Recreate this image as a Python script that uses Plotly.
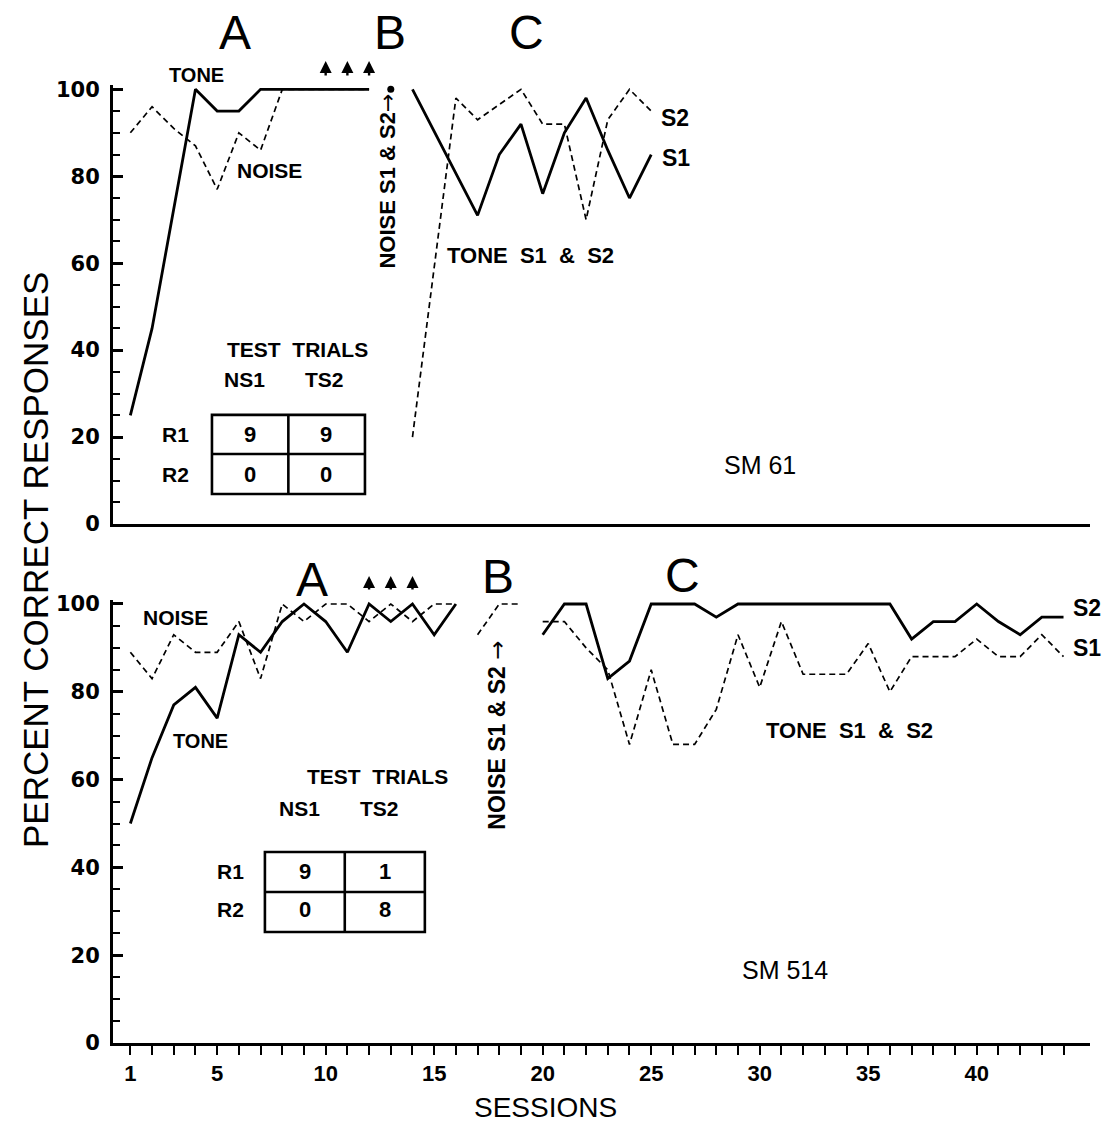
import plotly.graph_objects as go

# ---------------- data ----------------
# Top panel (SM 61)
top_A_tone_sessions = [1, 2, 4, 5, 6, 7, 8, 9, 10, 11, 12]
top_A_tone_values = [25, 45, 100, 95, 95, 100, 100, 100, 100, 100, 100]
top_A_noise_sessions = [1, 2, 3, 4, 5, 6, 7, 8, 9, 10, 11, 12]
top_A_noise_values = [90, 96, 91, 87, 77, 90, 86, 100, 100, 100, 100, 100]
top_B_sessions = [13]
top_B_values = [100]
top_C_s1_sessions = [14, 17, 18, 19, 20, 21, 22, 23, 24, 25]
top_C_s1_values = [100, 71, 85, 92, 76, 90, 98, 86, 75, 85]
top_C_s2_sessions = [14, 16, 17, 19, 20, 21, 22, 23, 24, 25]
top_C_s2_values = [20, 98, 93, 100, 92, 92, 70, 93, 100, 95]
top_test_sessions = [10, 11, 12]
top_table = [["9", "9"], ["0", "0"]]

# Bottom panel (SM 514)
bot_A_sessions = [1, 2, 3, 4, 5, 6, 7, 8, 9, 10, 11, 12, 13, 14, 15, 16]
bot_A_tone_values = [50, 65, 77, 81, 74, 93, 89, 96, 100, 96, 89, 100, 96, 100, 93, 100]
bot_A_noise_values = [89, 83, 93, 89, 89, 96, 83, 100, 96, 100, 100, 96, 100, 96, 100, 100]
bot_B_sessions = [17, 18, 19]
bot_B_values = [93, 100, 100]
bot_C_sessions = list(range(20, 45))
bot_C_s2_values = [93, 100, 100, 83, 87, 100, 100, 100, 97, 100, 100, 100, 100, 100, 100, 100,
                   100, 92, 96, 96, 100, 96, 93, 97, 97]
bot_C_s1_values = [96, 96, 90, 85, 68, 85, 68, 68, 76, 93, 81, 96, 84, 84, 84, 91,
                   80, 88, 88, 88, 92, 88, 88, 93, 88]
bot_test_sessions = [12, 13, 14]
bot_table = [["9", "1"], ["0", "8"]]

x_tick_sessions = list(range(1, 45))
x_label_sessions = [1, 5, 10, 15, 20, 25, 30, 35, 40]
x_tick_labels = ["1", "5", "10", "15", "20", "25", "30", "35", "40"]
y_tick_values = [0, 20, 40, 60, 80, 100]
y_tick_labels = ["0", "20", "40", "60", "80", "100"]

# ---------------- figure ----------------
W, H = 1109, 1124
ML, MR, MT, MB = 113, 19, 85, 81
PLOT_H = H - MT - MB


def py(px):
    """page pixel row -> paper y"""
    return (H - MB - px) / PLOT_H


def pxx(px):
    """page pixel column -> paper x"""
    return (px - ML) / (W - ML - MR)


SOLID = dict(color="black", width=2.8)
DASH = dict(color="black", width=1.7, dash="6px,4px")

fig = go.Figure()


def add_line(xs, ys, line, ax):
    fig.add_trace(go.Scatter(x=xs, y=ys, mode="lines", line=line, showlegend=False,
                             xaxis="x" if ax == 1 else "x2", yaxis="y" if ax == 1 else "y2",
                             hoverinfo="skip"))


add_line(top_A_tone_sessions, top_A_tone_values, SOLID, 1)
add_line(top_A_noise_sessions, top_A_noise_values, DASH, 1)
add_line(top_C_s1_sessions, top_C_s1_values, SOLID, 1)
add_line(top_C_s2_sessions, top_C_s2_values, DASH, 1)
fig.add_trace(go.Scatter(x=top_B_sessions, y=top_B_values, mode="markers",
                         marker=dict(color="black", size=7), showlegend=False,
                         cliponaxis=False, xaxis="x", yaxis="y"))

add_line(bot_A_sessions, bot_A_tone_values, SOLID, 2)
add_line(bot_A_sessions, bot_A_noise_values, DASH, 2)
add_line(bot_B_sessions, bot_B_values, DASH, 2)
add_line(bot_C_sessions, bot_C_s2_values, SOLID, 2)
add_line(bot_C_sessions, bot_C_s1_values, DASH, 2)

XR = [0.2, 45.22]
ytick_font = dict(family="DejaVu Sans", size=21, color="black", weight="bold")
yax_common = dict(range=[0, 101], showgrid=False, zeroline=False, showline=True,
                  linecolor="black", linewidth=3, ticks="inside", ticklen=10, tickwidth=2.5,
                  tickcolor="black", tickvals=y_tick_values, ticktext=y_tick_labels,
                  tickfont=ytick_font, ticklabelstandoff=6,
                  minor=dict(dtick=5, tick0=0, ticks="inside", ticklen=7, tickwidth=2, tickcolor="black"))

fig.update_layout(
    width=W, height=H,
    margin=dict(l=ML, r=MR, t=MT, b=MB),
    paper_bgcolor="white", plot_bgcolor="white",
    xaxis=dict(domain=[0, 1], range=XR, anchor="y", showgrid=False, zeroline=False,
               showline=True, linecolor="black", linewidth=3, showticklabels=False, ticks=""),
    yaxis=dict(domain=[py(524), 1.0], anchor="x", **yax_common),
    xaxis2=dict(domain=[0, 1], range=XR, anchor="y2", showgrid=False, zeroline=False,
                showline=True, linecolor="black", linewidth=3, ticks="outside", ticklen=9,
                tickwidth=2, tickcolor="black", tickvals=x_tick_sessions,
                ticktext=[x_tick_labels[x_label_sessions.index(s)] if s in x_label_sessions else ""
                          for s in x_tick_sessions],
                tickfont=dict(family="Liberation Sans", size=22, color="black", weight="bold")),
    yaxis2=dict(domain=[0, py(599.6)], anchor="x2", **yax_common),
)

ann = []


def txt(x, y, t, ax=1, size=21, bold=True, angle=0, xanchor="center",
        family="Liberation Sans", ypaper=False):
    ann.append(dict(x=x, y=y, xref="x" if ax == 1 else "x2",
                    yref="paper" if ypaper else ("y" if ax == 1 else "y2"),
                    text=t, showarrow=False, textangle=angle, xanchor=xanchor, yanchor="middle",
                    font=dict(family=family, size=size, color="black",
                              weight="bold" if bold else "normal")))


ARROW = '<span style="font-family:DejaVu Sans;font-weight:normal">→</span>'

# Top panel texts
txt(5.82, py(32), "A", 1, size=48, bold=False, ypaper=True)
txt(12.96, py(32), "B", 1, size=48, bold=False, ypaper=True)
txt(19.27, py(32), "C", 1, size=48, bold=False, ypaper=True)
txt(4.07, py(75), "TONE", 1, size=20, ypaper=True)
txt(7.43, 81.3, "NOISE", 1, size=21)
txt(12.87, 79.0, "NOISE S1 &amp; S2" + ARROW, 1, size=22, angle=-90)
txt(19.43, 61.75, "TONE  S1  &amp;  S2", 1, size=22)
txt(25.35, 93.5, "S2", 1, size=23, xanchor="left")
txt(25.4, 84.3, "S1", 1, size=23, xanchor="left")
txt(8.72, 40.1, "TEST  TRIALS", 1, size=21)
txt(6.28, 33.2, "NS1", 1, size=21)
txt(9.96, 33.2, "TS2", 1, size=21)
txt(3.06, 20.5, "R1", 1, size=21)
txt(3.06, 11.5, "R2", 1, size=21)
txt(30.0, 13.6, "SM 61", 1, size=25, bold=False)

# Bottom panel texts
txt(9.37, py(579), "A", 2, size=48, bold=False, ypaper=True)
txt(17.94, py(576), "B", 2, size=48, bold=False, ypaper=True)
txt(26.46, py(575), "C", 2, size=48, bold=False, ypaper=True)
txt(3.06, 97.0, "NOISE", 2, size=21)
txt(4.21, 68.8, "TONE", 2, size=20)
txt(12.41, 60.6, "TEST  TRIALS", 2, size=21)
txt(8.81, 53.5, "NS1", 2, size=21)
txt(12.5, 53.5, "TS2", 2, size=21)
txt(5.6, 39.0, "R1", 2, size=21)
txt(5.6, 30.3, "R2", 2, size=21)
txt(17.89, 70.2, "NOISE S1 &amp; S2 " + ARROW, 2, size=23, angle=-90)
txt(34.16, 71.1, "TONE  S1  &amp;  S2", 2, size=22)
txt(44.35, 99.0, "S2", 2, size=23, xanchor="left")
txt(44.35, 90.0, "S1", 2, size=23, xanchor="left")
txt(31.16, 16.6, "SM 514", 2, size=25, bold=False)

# table cell values
for r, yv in enumerate([20.5, 11.5]):
    for c, xv in enumerate([6.51, 10.0]):
        txt(xv, yv, top_table[r][c], 1, size=22)
for r, yv in enumerate([39.0, 30.3]):
    for c, xv in enumerate([9.04, 12.73]):
        txt(xv, yv, bot_table[r][c], 2, size=22)

# test-trial arrows
for s in top_test_sessions:
    ann.append(dict(x=s, y=py(61), xref="x", yref="paper", ax=0, ay=16,
                    showarrow=True, arrowhead=2, arrowsize=1.0, arrowwidth=2.4,
                    arrowcolor="black", text=""))
for s in bot_test_sessions:
    ann.append(dict(x=s, y=py(576), xref="x2", yref="paper", ax=0, ay=15,
                    showarrow=True, arrowhead=2, arrowsize=1.0, arrowwidth=2.4,
                    arrowcolor="black", text=""))

# axis titles
ann.append(dict(x=pxx(35), y=py(560), xref="paper", yref="paper", text="PERCENT CORRECT RESPONSES",
                showarrow=False, textangle=-90, xanchor="center", yanchor="middle",
                font=dict(family="Liberation Sans", size=35, color="black")))
ann.append(dict(x=pxx(545), y=py(1107), xref="paper", yref="paper", text="SESSIONS",
                showarrow=False, xanchor="center", yanchor="middle",
                font=dict(family="Liberation Sans", size=28, color="black")))
fig.update_layout(annotations=ann)


# test-trial tables (boxes)
def table(ax, x0, x1, xm, y0, y1, ym):
    xr, yr = ("x", "y") if ax == 1 else ("x2", "y2")
    ln = dict(color="black", width=2.6)
    fig.add_shape(type="rect", x0=x0, x1=x1, y0=y0, y1=y1, xref=xr, yref=yr, line=ln)
    fig.add_shape(type="line", x0=xm, x1=xm, y0=y0, y1=y1, xref=xr, yref=yr, line=ln)
    fig.add_shape(type="line", x0=x0, x1=x1, y0=ym, y1=ym, xref=xr, yref=yr, line=ln)


table(1, 4.76, 11.81, 8.28, 6.9, 25.1, 16.1)
table(2, 7.2, 14.57, 10.88, 25.3, 43.5, 34.4)

fig.write_html("out.html", config={"displayModeBar": False},
               post_script="document.body.style.margin='0';document.body.style.overflow='hidden';")
